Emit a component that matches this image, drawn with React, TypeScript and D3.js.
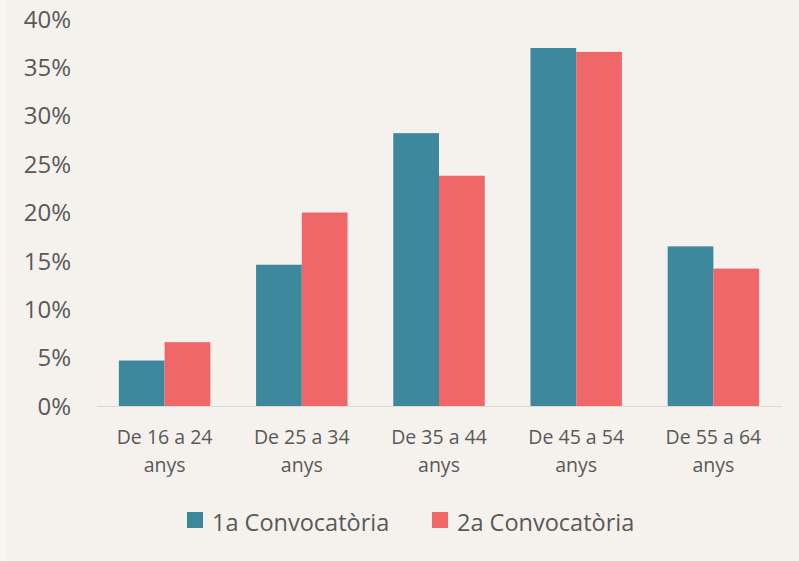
import React from "react";
import * as d3 from "d3";

const categories: string[][] = [
  ["De 16 a 24", "anys"],
  ["De 25 a 34", "anys"],
  ["De 35 a 44", "anys"],
  ["De 45 a 54", "anys"],
  ["De 55 a 64", "anys"],
];
const seriesNames = ["1a Convocatòria", "2a Convocatòria"];
const serie1 = [4.7, 14.6, 28.2, 37.0, 16.5];
const serie2 = [6.6, 20.0, 23.8, 36.6, 14.2];
const yTicks = [0, 5, 10, 15, 20, 25, 30, 35, 40];
const colors = ["#3d889c", "#f06769"];

const W = 799;
const H = 561;
const FONT = "'Open Sans', sans-serif";
const TXT = "#595959";

export default function App() {
  const x0 = d3.scaleBand<number>().domain(d3.range(categories.length)).range([96, 782]).paddingInner(0).paddingOuter(0);
  const x1 = d3.scaleBand<number>().domain([0, 1]).range([0, x0.bandwidth()]).paddingInner(0).paddingOuter(0.5);
  const y = d3.scaleLinear().domain([0, 40]).range([406, 19]);
  const series = [serie1, serie2];

  return (
    <svg width={W} height={H} style={{ position: "absolute", left: 0, top: 0, display: "block" }}>
      <rect x={0} y={0} width={W} height={H} fill="#f5f2ee" />
      <rect x={0} y={0} width={6} height={H} fill="#f8f7f3" />
      {yTicks.map((t) => (
        <text key={t} x={71} y={y(t)} dy="0.36em" textAnchor="end" fontFamily={FONT} fontSize={24} fill={TXT}>
          {t}%
        </text>
      ))}
      {series.map((vals, si) =>
        vals.map((v, i) => (
          <rect
            key={`${si}-${i}`}
            x={(x0(i) as number) + (x1(si) as number)}
            y={y(v)}
            width={x1.bandwidth()}
            height={y(0) - y(v)}
            fill={colors[si]}
          />
        ))
      )}
      <line x1={97} x2={782} y1={y(0) + 0.5} y2={y(0) + 0.5} stroke="#d9d9d9" strokeWidth={1} />
      {categories.map((c, i) => (
        <text key={i} textAnchor="middle" fontFamily={FONT} fontSize={19.5} fill={TXT}>
          {c.map((line, li) => (
            <tspan key={li} x={(x0(i) as number) + x0.bandwidth() / 2} y={444 + li * 28}>
              {line}
            </tspan>
          ))}
        </text>
      ))}
      {seriesNames.map((n, i) => {
        const lx = [187, 432][i];
        return (
          <g key={n}>
            <rect x={lx} y={512} width={16} height={16} fill={colors[i]} />
            <text x={lx + 25} y={531} fontFamily={FONT} fontSize={23.5} fill={TXT}>
              {n}
            </text>
          </g>
        );
      })}
    </svg>
  );
}
